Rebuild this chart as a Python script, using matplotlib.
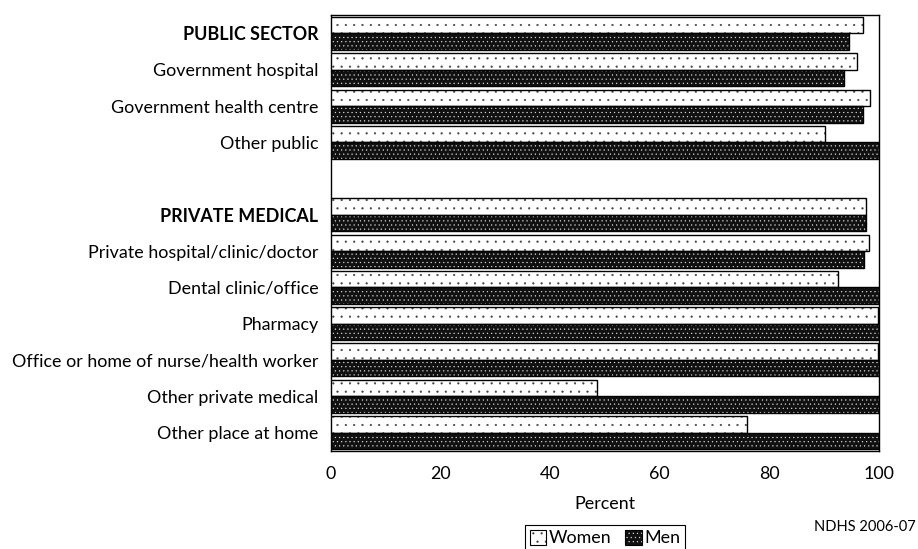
import numpy as np
import matplotlib
matplotlib.use("Agg")
import matplotlib.pyplot as plt
from matplotlib.patches import Patch
from matplotlib.legend_handler import HandlerTuple

plt.rcParams["font.family"] = ["Lato", "DejaVu Sans"]
plt.rcParams["hatch.linewidth"] = 0.35

# rows top to bottom; "" is the blank spacer row between sectors
CATEGORIES = ["PUBLIC SECTOR", "Government hospital", "Government health centre",
              "Other public", "", "PRIVATE MEDICAL", "Private hospital/clinic/doctor",
              "Dental clinic/office", "Pharmacy", "Office or home of nurse/health worker",
              "Other private medical", "Other place at home"]
HEADERS = {"PUBLIC SECTOR", "PRIVATE MEDICAL"}
WOMEN = [97.1, 95.9, 98.3, 90.2, np.nan, 97.6, 98.2, 92.5, 99.8, 99.9, 48.5, 75.9]
MEN   = [94.5, 93.6, 97.0, 100.0, np.nan, 97.6, 97.3, 100.0, 100.0, 100.0, 100.0, 100.0]
XTICKS = [0, 20, 40, 60, 80, 100]

fig = plt.figure(figsize=(9.18, 5.49), dpi=100)
ax = fig.add_axes([0.3606, 0.1791, 0.5969, 0.7930])

y = np.arange(len(CATEGORIES))
h = 0.455
w = np.nan_to_num(np.array(WOMEN))
m = np.nan_to_num(np.array(MEN))
keep = np.array([c != "" for c in CATEGORIES])

# women: white with sparse fine black dots
ax.barh(y[keep] - h / 2, w[keep], height=h, facecolor="white", edgecolor="#444444",
        hatch="..", lw=0, zorder=3)
ax.barh(y[keep] - h / 2, w[keep], height=h, fill=False, edgecolor="black",
        lw=1.0, zorder=4)
# men: black with fine white dots, then a black outline
ax.barh(y[keep] + h / 2, m[keep], height=h, facecolor="#111111", edgecolor="#dddddd",
        hatch="....", lw=0, zorder=3)
ax.barh(y[keep] + h / 2, m[keep], height=h, fill=False, edgecolor="black",
        lw=1.0, zorder=4)

ax.set_ylim(11.5, -0.5)
ax.set_xlim(0, 100)
ax.set_yticks(y)
ax.set_yticklabels(CATEGORIES, fontsize=12.9)
for lab in ax.get_yticklabels():
    if lab.get_text() in HEADERS:
        lab.set_fontweight("bold")
ax.set_xticks(XTICKS)
ax.set_xticklabels([str(t) for t in XTICKS], fontsize=12.9)
ax.tick_params(axis="both", length=0)
ax.tick_params(axis="x", pad=11)
ax.tick_params(axis="y", pad=9)
ax.set_xlabel("Percent", fontsize=12.9, labelpad=10)
for s in ax.spines.values():
    s.set_linewidth(1.0)
    s.set_color("black")

hw = (Patch(facecolor="white", edgecolor="#444444", hatch="..", lw=0),
      Patch(fill=False, edgecolor="black", lw=0.8))
hm = (Patch(facecolor="#111111", edgecolor="#dddddd", hatch="....", lw=0),
      Patch(fill=False, edgecolor="black", lw=0.8))
leg = fig.legend([hw, hm], ["Women", "Men"], loc="center",
                 bbox_to_anchor=(605 / 918, 1 - 538 / 549), ncol=2, fontsize=12.9,
                 frameon=True, fancybox=False, edgecolor="black", framealpha=1,
                 handlelength=0.9, handleheight=0.9, handletextpad=0.15,
                 columnspacing=0.8, borderpad=0.25, borderaxespad=0,
                 handler_map={tuple: HandlerTuple(ndivide=1)})
leg.get_frame().set_linewidth(0.8)

fig.text(916 / 918, 1 - 527 / 549, "NDHS 2006-07", ha="right", va="center", fontsize=10.5)

fig.savefig("out.png", dpi=100)
